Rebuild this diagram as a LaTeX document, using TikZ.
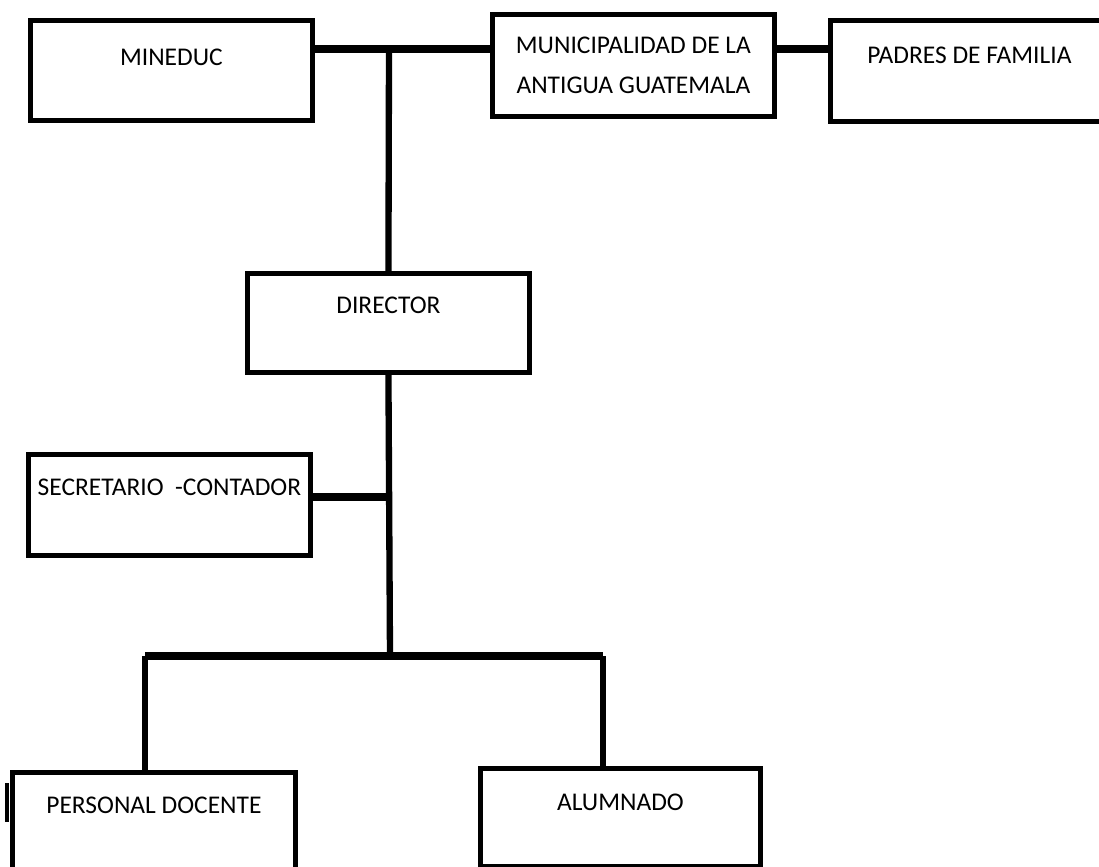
\documentclass[tikz,border=0pt]{standalone}
\usepackage{fontspec}
\setmainfont{Carlito}
\usepackage{tikz}

\begin{document}
\begin{tikzpicture}[x=0.02cm, y=-0.02cm]
    % Estilos de los bloques y de las lineas
    \tikzset{
        bloque/.style={
            draw, rectangle, line width=2.8pt, inner sep=0pt, anchor=north west, font=\fontsize{14.5}{22.7}\selectfont
        },
        linea/.style={line width=3.6pt},
        lineah/.style={line width=4.6pt}
    }
    \useasboundingbox (0,0) rectangle (1099,866);

    % Bloques de arriba
    \node[bloque, minimum width=5.64cm, text height=0.90cm, text depth=1.10cm] (mineduc) at (28,18) {MINEDUC};
    \node[bloque, minimum width=5.64cm, minimum height=2.04cm, align=center] (muni) at (490,12) {MUNICIPALIDAD DE LA\\ANTIGUA GUATEMALA};
    \node[bloque, minimum width=5.56cm, text height=0.86cm, text depth=1.16cm] (padres) at (828,18) {PADRES DE FAMILIA};
    % Direccion y secretaria
    \node[bloque, minimum width=5.64cm, text height=0.80cm, text depth=1.18cm] (director) at (245,271) {DIRECTOR};
    \node[bloque, minimum width=5.64cm, text height=0.82cm, text depth=1.20cm] (secretario) at (26,452) {SECRETARIO\ \ -CONTADOR};
    % Bloques de abajo
    \node[bloque, minimum width=5.66cm, text height=0.82cm, text depth=1.22cm] (docente) at (10,770) {PERSONAL DOCENTE};
    \node[bloque, minimum width=5.60cm, text height=0.84cm, text depth=1.12cm] (alumnado) at (478,766) {ALUMNADO};
    \draw[line width=2.4pt] ([xshift=-0.06cm, yshift=-0.26cm]docente.north west) -- ++(0,39);

    % Puntos de union
    \coordinate (arriba) at (389,49);
    \coordinate (derecha) at (800,49);
    \coordinate (nudo) at (390,497);
    \coordinate (ramal) at (390,656);
    \coordinate (izq) at (145,656);
    \coordinate (der) at (603,656);

    % Conexiones
    \draw[lineah] (mineduc.east |- arriba) -- (muni.west |- arriba);
    \draw[lineah] (muni.east |- derecha) -- (padres.west |- derecha);
    \draw[linea] (arriba) -- (director.north);
    \draw[linea] (director.south) -- (ramal);
    \draw[lineah] (secretario.east |- nudo) -- (nudo);
    \draw[lineah] (izq) -- (der);
    \draw[linea] (izq) -- (izq |- docente.north);
    \draw[linea] (der) -- (der |- alumnado.north);
\end{tikzpicture}
\end{document}
